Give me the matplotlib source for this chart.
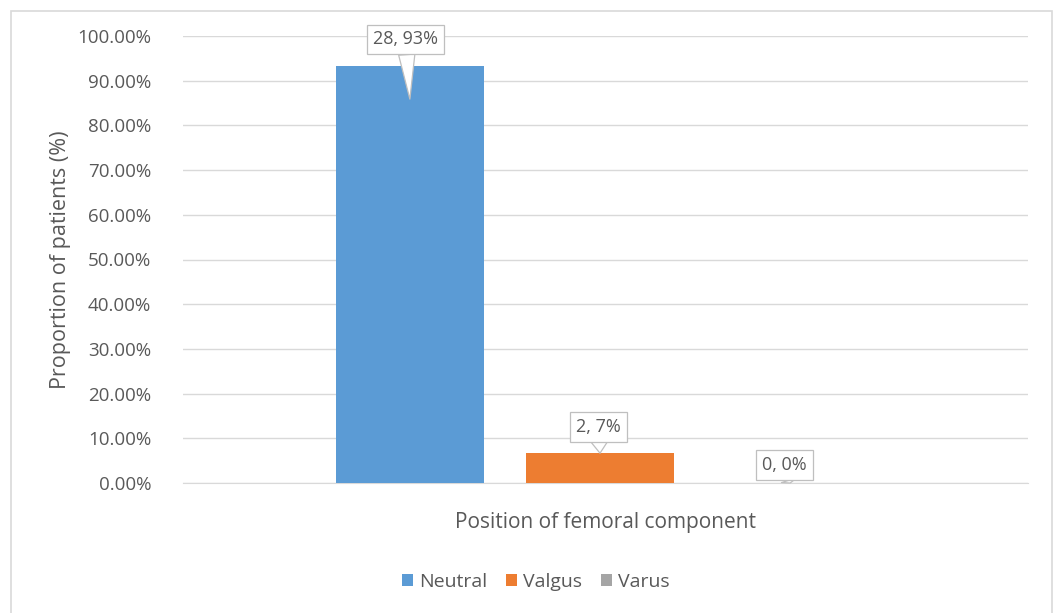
import numpy as np
import matplotlib
matplotlib.use('Agg')
import matplotlib.pyplot as plt
import matplotlib.transforms as mtransforms
from matplotlib.patches import Rectangle
from matplotlib.ticker import PercentFormatter

plt.rcParams['font.family'] = ['Open Sans', 'DejaVu Sans']

# 數據
series = ['Neutral', 'Valgus', 'Varus']
counts = [28, 2, 0]
shares = [28 / 30, 2 / 30, 0.0]
labels = ['28, 93%', '2, 7%', '0, 0%']
colors = ['#5B9BD5', '#ED7D31', '#A5A5A5']
yticks = np.arange(0, 1.01, 0.1)

# 標註框偏移 (points)
tip_dy = [-24, 0, 0]
text_dx = [-3, -1, -4]
text_dy = [43, 19, 13]

txt = '#595959'
grid = '#D9D9D9'

fig = plt.figure(figsize=(10.57, 6.13), dpi=100)
fig.patches.append(Rectangle((11 / 1057, -0.05), (1052 - 11) / 1057, 1.05 - 11 / 613,
                             transform=fig.transFigure, fill=False, ec='#D9D9D9', lw=1.2))
ax = fig.add_axes([183 / 1057, 1 - 483 / 613, (1028 - 183) / 1057, (483 - 36) / 613])

w = 0.175
offs = (np.arange(len(series)) - 1) * 0.225
for i in range(len(series)):
    ax.bar(offs[i], shares[i], width=w, color=colors[i], label=series[i], zorder=3)
    tip = mtransforms.offset_copy(ax.transData, fig, x=0, y=tip_dy[i], units='points')
    ax.annotate(labels[i], xy=(offs[i], shares[i]), xycoords=tip,
                xytext=(text_dx[i], text_dy[i]), textcoords='offset points',
                ha='center', va='center', fontsize=13, color=txt, zorder=5,
                bbox=dict(boxstyle='square,pad=0.32', fc='white', ec='#BFBFBF', lw=0.9),
                arrowprops=dict(arrowstyle='wedge,tail_width=0.9,shrink_factor=0.5',
                                fc='white', ec='#BFBFBF', lw=0.9, shrinkA=0, shrinkB=0))

ax.set_xlim(-0.4935, 0.5065)
ax.set_ylim(0, 1.0)
ax.set_yticks(yticks)
ax.yaxis.set_major_formatter(PercentFormatter(1.0, decimals=2))
ax.grid(axis='y', color=grid, lw=1, zorder=0)
ax.set_xticks([])
for s in ['top', 'right', 'left']:
    ax.spines[s].set_visible(False)
ax.spines['bottom'].set_color(grid)
ax.tick_params(axis='y', length=0, pad=23, labelsize=13.5, labelcolor=txt)

ax.set_ylabel('Proportion of patients (%)', fontsize=15.5, color=txt, labelpad=4)
ax.set_xlabel('Position of femoral component', fontsize=15, color=txt, labelpad=21)

ax.legend(loc='center', bbox_to_anchor=(536 / 1057, 1 - 582 / 613), bbox_transform=fig.transFigure,
          ncol=3, frameon=False, fontsize=14, labelcolor=txt, handlelength=0.55, handleheight=0.55,
          handletextpad=0.3, columnspacing=1.0)

plt.savefig('out.png', dpi=100)
